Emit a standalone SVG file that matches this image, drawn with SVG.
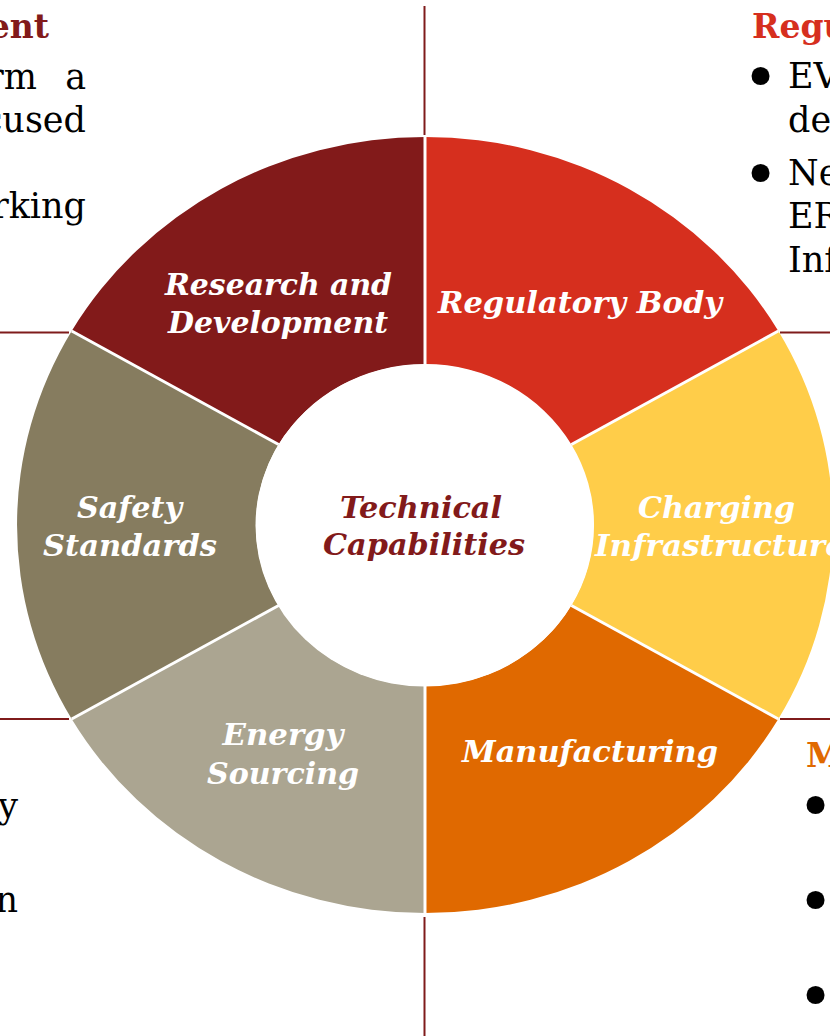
<svg xmlns="http://www.w3.org/2000/svg" width="830" height="1036" viewBox="0 0 830 1036">
  <style>
    .seg-label { font-family: "DejaVu Serif", "Liberation Serif", serif; font-weight: bold; font-style: italic; font-size: 30px; fill: #ffffff; text-anchor: middle; }
    .hub-label { font-family: "DejaVu Serif", "Liberation Serif", serif; font-weight: bold; font-style: italic; font-size: 30px; fill: #821a1a; text-anchor: middle; }
    .body { font-family: "DejaVu Serif", "Liberation Serif", serif; font-size: 35px; fill: #000000; }
    .head { font-family: "DejaVu Serif", "Liberation Serif", serif; font-weight: bold; font-size: 33px; }
    .bullet { font-family: "DejaVu Sans", sans-serif; font-size: 62px; fill: #000000; text-anchor: middle; }
    .divider { stroke: #7f1b1b; stroke-width: 2; fill: none; }
    .seam { stroke: #ffffff; stroke-width: 3; }
  </style>

  <!-- quadrant dividers -->
  <g id="connectors">
    <line class="divider" x1="424.5" y1="6" x2="424.5" y2="135"/>
    <line class="divider" x1="424.5" y1="917" x2="424.5" y2="1036"/>
    <line class="divider" x1="0" y1="332.5" x2="69" y2="332.5"/>
    <line class="divider" x1="0" y1="719" x2="69" y2="719"/>
    <line class="divider" x1="780" y1="332.5" x2="830" y2="332.5"/>
    <line class="divider" x1="780" y1="719" x2="830" y2="719"/>
  </g>

  <!-- ring segments: outer ellipse 408x388, inner 169x161, centre (425,525) -->
  <g id="regulatory-body">
    <path fill="#d62f1e" d="M425 364 L425 137 A408 388 0 0 1 778.3 331 L571.4 444.5 A169 161 0 0 0 425 364 Z"/>
    <text class="seg-label" x="580" y="313" textLength="284" lengthAdjust="spacingAndGlyphs">Regulatory Body</text>
  </g>

  <g id="charging-infrastructure">
    <path fill="#ffcd49" d="M571.4 444.5 L778.3 331 A408 388 0 0 1 778.3 719 L571.4 605.5 A169 161 0 0 0 571.4 444.5 Z"/>
    <text class="seg-label" x="716.5" y="518" textLength="157" lengthAdjust="spacingAndGlyphs">Charging</text>
    <text class="seg-label" x="595" y="556" style="text-anchor:start" textLength="250" lengthAdjust="spacingAndGlyphs">Infrastructure</text>
  </g>

  <g id="manufacturing">
    <path fill="#e06900" d="M571.4 605.5 L778.3 719 A408 388 0 0 1 425 913 L425 686 A169 161 0 0 0 571.4 605.5 Z"/>
    <text class="seg-label" x="590" y="762" textLength="256" lengthAdjust="spacingAndGlyphs">Manufacturing</text>
  </g>

  <g id="energy-sourcing">
    <path fill="#aba591" d="M425 686 L425 913 A408 388 0 0 1 71.7 719 L278.6 605.5 A169 161 0 0 0 425 686 Z"/>
    <text class="seg-label" x="283" y="745" textLength="121" lengthAdjust="spacingAndGlyphs">Energy</text>
    <text class="seg-label" x="283" y="784" textLength="152" lengthAdjust="spacingAndGlyphs">Sourcing</text>
  </g>

  <g id="safety-standards">
    <path fill="#867c5f" d="M278.6 605.5 L71.7 719 A408 388 0 0 1 71.7 331 L278.6 444.5 A169 161 0 0 0 278.6 605.5 Z"/>
    <text class="seg-label" x="129.5" y="518" textLength="105" lengthAdjust="spacingAndGlyphs">Safety</text>
    <text class="seg-label" x="130" y="556" textLength="174" lengthAdjust="spacingAndGlyphs">Standards</text>
  </g>

  <g id="research-and-development">
    <path fill="#821a1a" d="M278.6 444.5 L71.7 331 A408 388 0 0 1 425 137 L425 364 A169 161 0 0 0 278.6 444.5 Z"/>
    <text class="seg-label" x="278.5" y="295" textLength="227" lengthAdjust="spacingAndGlyphs">Research and</text>
    <text class="seg-label" x="278" y="333" textLength="220" lengthAdjust="spacingAndGlyphs">Development</text>
  </g>

  <!-- white seams between segments -->
  <g id="seams">
    <line class="seam" x1="425" y1="364" x2="425" y2="137"/>
    <line class="seam" x1="425" y1="686" x2="425" y2="913"/>
    <line class="seam" x1="571.4" y1="444.5" x2="778.3" y2="331"/>
    <line class="seam" x1="571.4" y1="605.5" x2="778.3" y2="719"/>
    <line class="seam" x1="278.6" y1="444.5" x2="71.7" y2="331"/>
    <line class="seam" x1="278.6" y1="605.5" x2="71.7" y2="719"/>
  </g>

  <g id="technical-capabilities">
    <ellipse cx="424.5" cy="525.5" rx="169" ry="161" fill="#ffffff"/>
    <text class="hub-label" x="421" y="518" textLength="162" lengthAdjust="spacingAndGlyphs">Technical</text>
    <text class="hub-label" x="424" y="555" textLength="202" lengthAdjust="spacingAndGlyphs">Capabilities</text>
  </g>

  <!-- side notes, running off the page edges -->
  <g id="note-top-left">
    <text class="head" x="49" y="38" fill="#821a1a" text-anchor="end">ent</text>
    <text class="body" x="37" y="89" text-anchor="end">rm</text>
    <text class="body" x="86" y="89" text-anchor="end">a</text>
    <text class="body" x="86" y="132" text-anchor="end">cused</text>
    <text class="body" x="86" y="218" text-anchor="end">rking</text>
  </g>

  <g id="note-top-right">
    <text class="head" x="752" y="38" fill="#d62f1e">Regu</text>
    <text class="bullet" x="760.5" y="99">•</text>
    <text class="body" x="788" y="88">EV</text>
    <text class="body" x="788" y="132">dev</text>
    <text class="bullet" x="760.5" y="196">•</text>
    <text class="body" x="788" y="185">Ne</text>
    <text class="body" x="788" y="228">ER</text>
    <text class="body" x="788" y="272">Inf</text>
  </g>

  <g id="note-bottom-left">
    <text class="body" x="18" y="818" text-anchor="end">y</text>
    <text class="body" x="18" y="912" text-anchor="end">n</text>
  </g>

  <g id="note-bottom-right">
    <text class="head" x="806" y="767" fill="#e06900">M</text>
    <text class="bullet" x="815.5" y="828">•</text>
    <text class="bullet" x="815.5" y="923">•</text>
    <text class="bullet" x="815.5" y="1018">•</text>
  </g>
</svg>
